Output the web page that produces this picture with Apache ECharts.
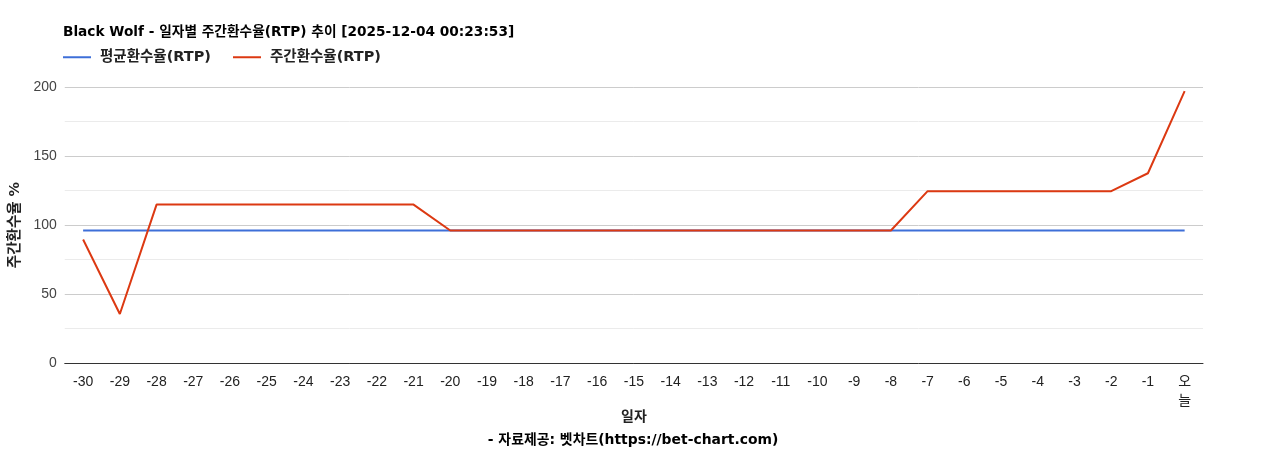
<!DOCTYPE html>
<html>
<head>
    <meta charset="utf-8" />
    <title>Black Wolf RTP</title>
    <script src="https://cdn.jsdelivr.net/npm/echarts@6/dist/echarts.min.js"></script>
    <style>
        html, body { margin: 0; padding: 0; background: #fff; }
        #chart { width: 1268px; height: 450px; }
    </style>
</head>
<body>
    <div id="chart"></div>
<script>
    // 일자 (x축)
    var days = ['-30', '-29', '-28', '-27', '-26', '-25', '-24', '-23', '-22', '-21',
        '-20', '-19', '-18', '-17', '-16', '-15', '-14', '-13', '-12', '-11',
        '-10', '-9', '-8', '-7', '-6', '-5', '-4', '-3', '-2', '-1', '오늘'];
    // 평균환수율
    var avgRtp = [96, 96, 96, 96, 96, 96, 96, 96, 96, 96,
        96, 96, 96, 96, 96, 96, 96, 96, 96, 96,
        96, 96, 96, 96, 96, 96, 96, 96, 96, 96, 96];
    // 주간환수율
    var weekRtp = [89.5, 35.5, 114.8, 114.8, 114.8, 114.8, 114.8, 114.8, 114.8, 114.8,
        96, 96, 96, 96, 96, 96, 96, 96, 96, 96,
        96, 96, 96, 124.5, 124.5, 124.5, 124.5, 124.5, 124.5, 137.5, 197];
    var yTicks = [0, 50, 100, 150, 200];

    var cjk = 'Arial, "Liberation Sans", "Noto Sans CJK KR", sans-serif';
    var boldFont = '"DejaVu Sans", "Noto Sans CJK KR", sans-serif';

    var myChart = echarts.init(document.getElementById('chart'));
    var option = {
        animation: false,
        title: [{
            text: 'Black Wolf - 일자별 주간환수율(RTP) 추이 [2025-12-04 00:23:53]',
            left: 58,
            top: 21,
            textStyle: { fontFamily: boldFont, fontSize: 13.7, fontWeight: 'bold', color: '#000' }
        }, {
            text: '일자',
            left: 629,
            top: 405,
            textAlign: 'center',
            textStyle: { fontFamily: boldFont, fontSize: 14, fontWeight: 'bold', color: '#222' }
        }, {
            text: '- 자료제공: 벳차트(https://bet-chart.com)',
            left: 628,
            top: 428,
            textAlign: 'center',
            textStyle: { fontFamily: boldFont, fontSize: 13.9, fontWeight: 'bold', color: '#000' }
        }],
        legend: {
            left: 58,
            top: 45,
            itemWidth: 28,
            itemHeight: 2,
            itemGap: 22,
            icon: 'rect',
            textStyle: { fontFamily: boldFont, fontSize: 14.5, fontWeight: 'bold', color: '#222', padding: [0, 0, 0, 4] },
            data: ['평균환수율(RTP)', '주간환수율(RTP)']
        },
        grid: { left: 63, right: 65, top: 87, bottom: 87 },
        xAxis: {
            type: 'category',
            data: days,
            boundaryGap: true,
            axisLine: { lineStyle: { color: '#333' } },
            axisTick: { show: false },
            axisLabel: {
                interval: 0,
                margin: 10,
                fontFamily: cjk,
                fontSize: 14,
                color: '#222',
                lineHeight: 19,
                formatter: function (v) { return v === '오늘' ? '오\n늘' : v; }
            }
        },
        yAxis: {
            type: 'value',
            min: yTicks[0],
            max: yTicks[yTicks.length - 1],
            interval: 50,
            name: '주간환수율 %',
            nameLocation: 'middle',
            nameRotate: 90,
            nameGap: 29,
            nameTextStyle: { fontFamily: boldFont, fontSize: 14.5, fontWeight: 'bold', color: '#222' },
            axisLine: { show: false },
            axisTick: { show: false },
            axisLabel: { fontFamily: cjk, fontSize: 14, color: '#444', margin: 8 },
            splitLine: { lineStyle: { color: '#cccccc' } },
            minorTick: { show: false, splitNumber: 2 },
            minorSplitLine: { show: true, lineStyle: { color: '#ebebeb' } }
        },
        series: [{
            name: '평균환수율(RTP)',
            type: 'line',
            data: avgRtp,
            symbol: 'none',
            lineStyle: { width: 2, color: '#3e6fd8' },
            itemStyle: { color: '#3e6fd8' },
            z: 2
        }, {
            name: '주간환수율(RTP)',
            type: 'line',
            data: weekRtp,
            symbol: 'none',
            lineStyle: { width: 2, color: '#dc3912' },
            itemStyle: { color: '#dc3912' },
            z: 3
        }]
    };
    myChart.setOption(option);
</script>
</body>
</html>
